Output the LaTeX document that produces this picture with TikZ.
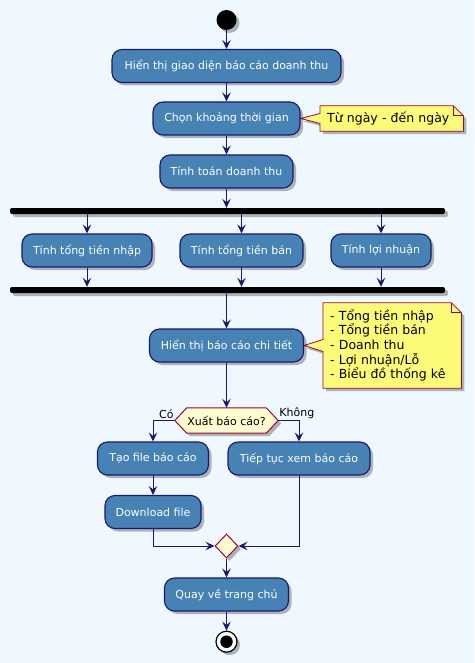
\documentclass[tikz,border=0pt]{standalone}
\usepackage{fontspec}
\setmainfont{DejaVu Sans}
\usetikzlibrary{shapes.geometric,shadows,arrows.meta,calc}
\definecolor{bgc}{HTML}{F0F8FF}
\definecolor{actfill}{HTML}{4682B4}
\definecolor{actline}{HTML}{191970}
\definecolor{notefill}{HTML}{FBFB77}
\definecolor{noteline}{HTML}{A80036}
\definecolor{decfill}{HTML}{FEFECE}
\pgfdeclarelayer{backg}
\pgfdeclarelayer{bg}
\pgfsetlayers{backg,bg,main}
\tikzset{
  shad/.style={drop shadow={shadow xshift=3pt,shadow yshift=-3pt,opacity=0.28,fill=black}},
  act/.style={draw=actline, line width=1.1pt, fill=actfill, rounded corners=10pt,
    minimum height=33pt, inner sep=0pt, text=white,
    font=\fontsize{11}{13}\selectfont, shad},
  arr/.style={draw=actline, line width=1pt, -{Stealth[length=9pt,width=8.5pt,inset=3.5pt]}},
  forkbar/.style={fill=black, rounded corners=2pt, minimum height=6pt, minimum width=435pt, inner sep=0pt, shad},
  notet/.style={font=\fontsize{12.5}{14.6}\selectfont, align=left, inner xsep=7pt, inner ysep=0pt, anchor=west},
  noteshape/.style={fill=notefill, draw=noteline, line width=0.8pt, shad},
  lbl/.style={font=\fontsize{11}{13}\selectfont, inner sep=1pt},
}
\begin{document}
\begin{tikzpicture}[x=1pt,y=-1pt]
\useasboundingbox (0,0) rectangle (474,663);
\begin{pgfonlayer}{backg}
\fill[bgc] (0,0) rectangle (474,663);
\end{pgfonlayer}
% start
\node[circle, fill=black, minimum size=20pt, inner sep=0pt, shad] (start) at (226.5,20) {};
\node[act, minimum width=229pt] (n1) at (226.5,66) {Hiển thị giao diện báo cáo doanh thu};
\node[act, minimum width=147pt] (n2) at (226.5,118.5) {Chọn khoảng thời gian};
\node[act, minimum width=133pt] (n3) at (226.5,171.5) {Tính toán doanh thu};
\node[forkbar] (fork1) at (227.5,211) {};
\node[act, minimum width=130pt] (p1) at (87,250.5) {Tính tổng tiền nhập};
\node[act, minimum width=123pt] (p2) at (241.5,250.5) {Tính tổng tiền bán};
\node[act, minimum width=100pt] (p3) at (381,250.5) {Tính lợi nhuận};
\node[forkbar] (fork2) at (227.5,290) {};
\node[act, minimum width=154pt] (det) at (226.5,345.5) {Hiển thị báo cáo chi tiết};
\node[minimum width=103pt, minimum height=25pt, inner sep=0pt, font=\fontsize{11}{13}\selectfont] (dec) at (226.5,420.5) {Xuất báo cáo?};
\node[act, minimum width=111pt] (tao) at (153,458.5) {Tạo file báo cáo};
\node[act, minimum width=96pt] (dl) at (153,512) {Download file};
\node[act, minimum width=142pt] (tiep) at (299,458.5) {Tiếp tục xem báo cáo};
\node[diamond, fill=decfill, draw=noteline, line width=1pt, minimum width=23pt, minimum height=24pt, inner sep=0pt, shad] (merge) at (226.5,546) {};
\node[act, minimum width=124pt] (quay) at (226.5,594.5) {Quay về trang chủ};
\node[circle, fill=white, draw=black, line width=1.2pt, minimum size=21pt, inner sep=0pt, shad] (endc) at (226.5,641.7) {};
\node[circle, fill=black, minimum size=12.5pt, inner sep=0pt] (enddot) at (endc.center) {};
% notes
\node[notet, text width=129pt, minimum height=25pt] (note1) at (320,118.5) {Từ ngày - đến ngày};
\node[notet, text width=124pt, minimum height=85pt] (note2) at (323,345.5) {- Tổng tiền nhập\\- Tổng tiền bán\\- Doanh thu\\- Lợi nhuận/Lỗ\\- Biểu đồ thống kê};
\begin{pgfonlayer}{bg}
\path[noteshape] (note1.north west) -- ($(note1.north east)+(-10,0)$) -- ($(note1.north east)+(0,10)$) -- (note1.south east) -- (note1.south west) -- ($(note1.west)+(0,5)$) -- (n2.east) -- ($(note1.west)+(0,-5)$) -- cycle;
\draw[noteline, line width=0.8pt] ($(note1.north east)+(-10,0)$) -- ($(note1.north east)+(-10,10)$) -- ($(note1.north east)+(0,10)$);
\path[noteshape] (note2.north west) -- ($(note2.north east)+(-10,0)$) -- ($(note2.north east)+(0,10)$) -- (note2.south east) -- (note2.south west) -- ($(note2.west)+(0,6)$) -- (det.east) -- ($(note2.west)+(0,-6)$) -- cycle;
\draw[noteline, line width=0.8pt] ($(note2.north east)+(-10,0)$) -- ($(note2.north east)+(-10,10)$) -- ($(note2.north east)+(0,10)$);
\path[fill=decfill, draw=noteline, line width=1pt, shad] (dec.west) -- ($(dec.north west)+(12,0)$) -- ($(dec.north east)+(-12,0)$) -- (dec.east) -- ($(dec.south east)+(-12,0)$) -- ($(dec.south west)+(12,0)$) -- cycle;
\end{pgfonlayer}
% connectors
\draw[arr] (start) -- (n1);
\draw[arr] (n1) -- (n2);
\draw[arr] (n2) -- (n3);
\draw[arr] (n3.south) -- (n3.south |- fork1.north);
\draw[arr] (fork1.south -| p1.north) -- (p1.north);
\draw[arr] (fork1.south -| p2.north) -- (p2.north);
\draw[arr] (fork1.south -| p3.north) -- (p3.north);
\draw[arr] (p1.south) -- (p1.south |- fork2.north);
\draw[arr] (p2.south) -- (p2.south |- fork2.north);
\draw[arr] (p3.south) -- (p3.south |- fork2.north);
\draw[arr] (fork2.south -| det.north) -- (det.north);
\draw[arr] (det) -- (dec);
\draw[arr] (dec.west) -| (tao.north);
\draw[arr] (dec.east) -| (tiep.north);
\node[lbl, anchor=south east] (lco) at ($(dec.west)+(0,-1)$) {Có};
\node[lbl, anchor=south west] (lkhong) at ($(dec.east)+(0,-1)$) {Không};
\draw[arr] (tao) -- (dl);
\draw[arr] (dl.south) |- (merge.west);
\draw[arr] (tiep.south) |- (merge.east);
\draw[arr] (merge) -- (quay);
\draw[arr] (quay) -- (endc);
\end{tikzpicture}
\end{document}
